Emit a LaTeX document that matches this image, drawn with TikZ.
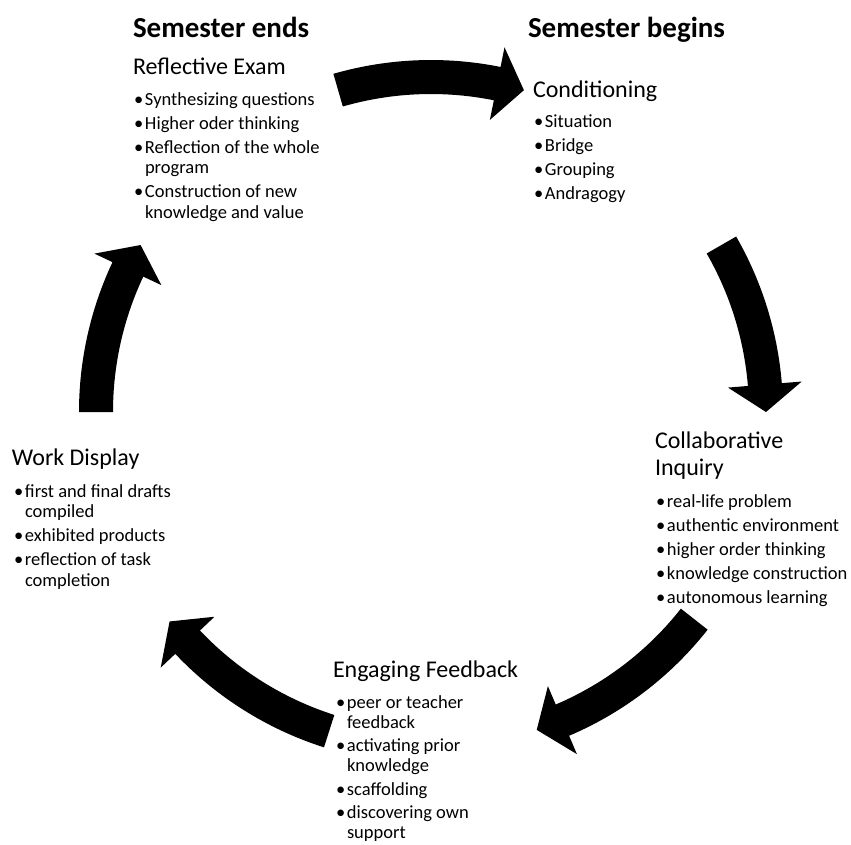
\documentclass[tikz,border=0pt]{standalone}
\usepackage{fontspec}
\setmainfont{Carlito}
\newlength\bulw
\setlength\bulw{11pt}
\newcommand\itm[1]{\hangindent=\bulw\hangafter=1\noindent\makebox[\bulw][l]{\textbullet}#1\par\vspace{3.5pt}}
\newcommand\blist[1]{\parbox[t]{320pt}{\fontsize{18.5}{20.5}\selectfont\rightskip=0pt plus 1fil\relax #1}}
\newcommand\blistb[1]{\parbox[t]{320pt}{\fontsize{18.5}{20}\selectfont\rightskip=0pt plus 1fil\relax #1}}
\newcommand\hdtwo[1]{\parbox[t]{220pt}{\fontsize{24}{27}\selectfont\rightskip=0pt plus 1fil\relax #1}}
\tikzset{
  txt/.style={inner sep=0pt, outer sep=0pt, anchor=base west, text=black},
  ttl/.style={txt, font=\fontsize{29}{34}\selectfont\bfseries},
  hd/.style={txt, font=\fontsize{24}{27}\selectfont},
  cyc/.style={fill=black},
}
\newcommand\cycarrow[2]{%
  \fill[cyc, shift={(ctr)}] (#1:352) arc[start angle=#1, end angle=#2+4.7, radius=352]
    -- (#2+4.7:372) -- (#2:335) -- (#2+4.7:298) -- (#2+4.7:318)
    arc[start angle=#2+4.7, end angle=#1, radius=318] -- cycle;}
\begin{document}
\begin{tikzpicture}[x=1pt,y=1pt]
\fill[white] (0,0) rectangle (851,-844);
\useasboundingbox (0,0) rectangle (851,-844);
\coordinate (ctr) at (431,-412);

% arrows of the cycle
\cycarrow{106.1}{73.9}
\cycarrow{29.9}{0}
\cycarrow{-38.2}{-71.6}
\cycarrow{-107.7}{-141.3}
\cycarrow{180}{150.1}

% top left
\node[ttl] (ttlA) at (133,-37) {Semester ends};
\node[hd] (hdA) at (133,-74) {Reflective Exam};
\node[txt] (lsA) at (134,-105) {\blist{%
\itm{Synthesizing questions}
\itm{Higher oder thinking}
\itm{Reflection of the whole\newline program}
\itm{Construction of new\newline knowledge and value}}};

% top right
\node[ttl] (ttlB) at (528,-37) {Semester begins};
\node[hd] (hdB) at (533,-97) {Conditioning};
\node[txt] (lsB) at (534,-127) {\blist{%
\itm{Situation}
\itm{Bridge}
\itm{Grouping}
\itm{Andragogy}}};

% right
\node[txt] (hdC) at (655,-448) {\hdtwo{Collaborative\newline Inquiry}};
\node[txt] (lsC) at (656,-507) {\blist{%
\itm{real-life problem}
\itm{authentic environment}
\itm{higher order thinking}
\itm{knowledge construction}
\itm{autonomous learning}}};

% left
\node[hd] (hdD) at (12,-465) {Work Display};
\node[txt] (lsD) at (14,-497) {\blist{%
\itm{first and final drafts\newline compiled}
\itm{exhibited products}
\itm{reflection of task\newline completion}}};

% bottom
\node[hd] (hdE) at (333,-677) {Engaging Feedback};
\node[txt] (lsE) at (336,-708) {\blistb{%
\itm{peer or teacher\newline feedback}
\itm{activating prior\newline knowledge}
\itm{scaffolding}
\itm{discovering own\newline support}}};
\end{tikzpicture}
\end{document}
